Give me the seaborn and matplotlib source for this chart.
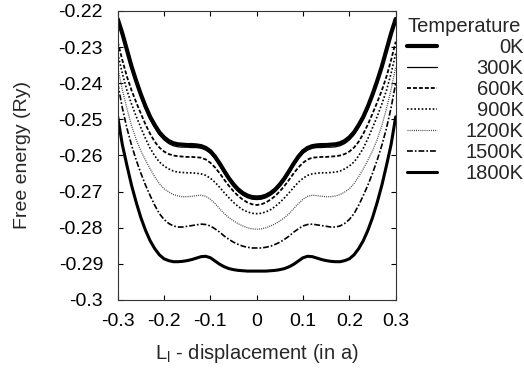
import numpy as np
import pandas as pd
import matplotlib
matplotlib.use("Agg")
import matplotlib.pyplot as plt
import seaborn as sns

# ---- data ----
x_disp = [-0.30, -0.29, -0.28, -0.27, -0.26, -0.25, -0.24, -0.23, -0.22, -0.21,
          -0.20, -0.19, -0.18, -0.17, -0.16, -0.15, -0.14, -0.13, -0.12, -0.11,
          -0.10, -0.09, -0.08, -0.07, -0.06, -0.05, -0.04, -0.03, -0.02, -0.01,
          0.00,
          0.01, 0.02, 0.03, 0.04, 0.05, 0.06, 0.07, 0.08, 0.09, 0.10,
          0.11, 0.12, 0.13, 0.14, 0.15, 0.16, 0.17, 0.18, 0.19, 0.20,
          0.21, 0.22, 0.23, 0.24, 0.25, 0.26, 0.27, 0.28, 0.29, 0.30]

f_0K = [-0.2222, -0.2262, -0.2308, -0.2354, -0.2394, -0.2431, -0.2464, -0.2493, -0.2516, -0.2536,
        -0.2550, -0.2560, -0.2566, -0.2569, -0.2570, -0.2571, -0.2571, -0.2572, -0.2574, -0.2579,
        -0.2588, -0.2603, -0.2622, -0.2643, -0.2663, -0.2680, -0.2694, -0.2704, -0.2711, -0.2715,
        -0.2716,
        -0.2715, -0.2711, -0.2704, -0.2694, -0.2680, -0.2663, -0.2643, -0.2622, -0.2603, -0.2588,
        -0.2579, -0.2574, -0.2572, -0.2571, -0.2571, -0.2570, -0.2569, -0.2566, -0.2560, -0.2550,
        -0.2536, -0.2516, -0.2493, -0.2464, -0.2431, -0.2394, -0.2354, -0.2308, -0.2262, -0.2222]

f_300K = [-0.2230, -0.2270, -0.2315, -0.2361, -0.2401, -0.2438, -0.2471, -0.2500, -0.2523, -0.2543,
          -0.2557, -0.2567, -0.2573, -0.2576, -0.2577, -0.2577, -0.2578, -0.2578, -0.2580, -0.2585,
          -0.2594, -0.2609, -0.2628, -0.2649, -0.2669, -0.2686, -0.2700, -0.2710, -0.2717, -0.2721,
          -0.2722,
          -0.2721, -0.2717, -0.2710, -0.2700, -0.2686, -0.2669, -0.2649, -0.2628, -0.2609, -0.2594,
          -0.2585, -0.2580, -0.2578, -0.2578, -0.2577, -0.2577, -0.2576, -0.2573, -0.2567, -0.2557,
          -0.2543, -0.2523, -0.2500, -0.2471, -0.2438, -0.2401, -0.2361, -0.2315, -0.2270, -0.2230]

f_600K = [-0.2285, -0.2336, -0.2382, -0.2420, -0.2453, -0.2484, -0.2514, -0.2540, -0.2562, -0.2578,
          -0.2589, -0.2596, -0.2600, -0.2602, -0.2603, -0.2604, -0.2604, -0.2605, -0.2606, -0.2611,
          -0.2620, -0.2633, -0.2649, -0.2667, -0.2684, -0.2699, -0.2712, -0.2722, -0.2730, -0.2735,
          -0.2737,
          -0.2735, -0.2730, -0.2722, -0.2712, -0.2699, -0.2684, -0.2667, -0.2649, -0.2633, -0.2620,
          -0.2611, -0.2606, -0.2605, -0.2604, -0.2604, -0.2603, -0.2602, -0.2600, -0.2596, -0.2589,
          -0.2578, -0.2562, -0.2540, -0.2514, -0.2484, -0.2453, -0.2420, -0.2382, -0.2336, -0.2285]

f_900K = [-0.2318, -0.2373, -0.2420, -0.2458, -0.2492, -0.2523, -0.2553, -0.2580, -0.2601, -0.2618,
          -0.2629, -0.2637, -0.2643, -0.2646, -0.2647, -0.2648, -0.2648, -0.2649, -0.2651, -0.2655,
          -0.2663, -0.2674, -0.2688, -0.2703, -0.2717, -0.2730, -0.2741, -0.2750, -0.2756, -0.2760,
          -0.2761,
          -0.2760, -0.2756, -0.2750, -0.2741, -0.2730, -0.2717, -0.2703, -0.2688, -0.2674, -0.2663,
          -0.2655, -0.2651, -0.2649, -0.2648, -0.2648, -0.2647, -0.2646, -0.2643, -0.2637, -0.2629,
          -0.2618, -0.2601, -0.2580, -0.2553, -0.2523, -0.2492, -0.2458, -0.2420, -0.2373, -0.2318]

f_1200K = [-0.2355, -0.2418, -0.2470, -0.2518, -0.2556, -0.2587, -0.2613, -0.2637, -0.2659, -0.2678,
           -0.2692, -0.2701, -0.2708, -0.2712, -0.2714, -0.2714, -0.2713, -0.2711, -0.2710, -0.2713,
           -0.2721, -0.2733, -0.2747, -0.2761, -0.2772, -0.2781, -0.2789, -0.2795, -0.2800, -0.2803,
           -0.2804,
           -0.2803, -0.2800, -0.2795, -0.2789, -0.2781, -0.2772, -0.2761, -0.2747, -0.2733, -0.2721,
           -0.2713, -0.2710, -0.2711, -0.2713, -0.2714, -0.2714, -0.2712, -0.2708, -0.2701, -0.2692,
           -0.2678, -0.2659, -0.2637, -0.2613, -0.2587, -0.2556, -0.2518, -0.2470, -0.2418, -0.2355]

f_1500K = [-0.2400, -0.2468, -0.2525, -0.2572, -0.2613, -0.2649, -0.2682, -0.2711, -0.2738, -0.2761,
           -0.2777, -0.2788, -0.2795, -0.2798, -0.2798, -0.2796, -0.2794, -0.2792, -0.2790, -0.2791,
           -0.2795, -0.2803, -0.2812, -0.2823, -0.2832, -0.2840, -0.2846, -0.2851, -0.2854, -0.2856,
           -0.2856,
           -0.2856, -0.2854, -0.2851, -0.2846, -0.2840, -0.2832, -0.2823, -0.2812, -0.2803, -0.2795,
           -0.2791, -0.2790, -0.2792, -0.2794, -0.2796, -0.2798, -0.2798, -0.2795, -0.2788, -0.2777,
           -0.2761, -0.2738, -0.2711, -0.2682, -0.2649, -0.2613, -0.2572, -0.2525, -0.2468, -0.2400]

f_1800K = [-0.2493, -0.2570, -0.2628, -0.2683, -0.2730, -0.2772, -0.2807, -0.2836, -0.2858, -0.2875,
           -0.2886, -0.2891, -0.2894, -0.2894, -0.2893, -0.2891, -0.2888, -0.2884, -0.2880, -0.2879,
           -0.2883, -0.2892, -0.2901, -0.2908, -0.2913, -0.2916, -0.2918, -0.2919, -0.2920, -0.2920,
           -0.2920,
           -0.2920, -0.2920, -0.2919, -0.2918, -0.2916, -0.2913, -0.2908, -0.2901, -0.2892, -0.2883,
           -0.2879, -0.2880, -0.2884, -0.2888, -0.2891, -0.2893, -0.2894, -0.2894, -0.2891, -0.2886,
           -0.2875, -0.2858, -0.2836, -0.2807, -0.2772, -0.2730, -0.2683, -0.2628, -0.2570, -0.2493]

temps = ["0K", "300K", "600K", "900K", "1200K", "1500K", "1800K"]
series = [f_0K, f_300K, f_600K, f_900K, f_1200K, f_1500K, f_1800K]

x_ticks = [-0.3, -0.2, -0.1, 0.0, 0.1, 0.2, 0.3]
x_ticklabels = ["-0.3", "-0.2", "-0.1", "0", "0.1", "0.2", "0.3"]
y_ticks = [-0.30, -0.29, -0.28, -0.27, -0.26, -0.25, -0.24, -0.23, -0.22]
y_ticklabels = ["-0.3", "-0.29", "-0.28", "-0.27", "-0.26", "-0.25", "-0.24", "-0.23", "-0.22"]

# ---- styles ----
styles = {
    "0K":    dict(lw=3.0, ls="-", color="black"),
    "300K":  dict(lw=0.9, ls="-", color="black"),
    "600K":  dict(lw=1.3, ls=(0, (2.2, 1.1)), color="black"),
    "900K":  dict(lw=1.2, ls=(0, (1.0, 1.2)), color="black"),
    "1200K": dict(lw=0.9, ls=(0, (0.8, 0.9)), color="#444444"),
    "1500K": dict(lw=1.2, ls=(0, (3.5, 1.2, 1.0, 1.2)), color="black"),
    "1800K": dict(lw=2.2, ls="-", color="black"),
}

sns.set_style("ticks")
plt.rcParams["font.family"] = ["Liberation Sans", "DejaVu Sans"]

fig = plt.figure(figsize=(5.24, 3.70), dpi=100)
ax = fig.add_axes([117.7 / 524, 70 / 370, 278 / 524, 289 / 370])

for t, ys in zip(temps, series):
    df = pd.DataFrame({"x": x_disp, "F": ys})
    st = styles[t]
    sns.lineplot(data=df, x="x", y="F", ax=ax, color=st["color"], linewidth=st["lw"],
                 linestyle=st["ls"], label=t, sort=True, errorbar=None)

ax.set_xlim(-0.3, 0.3)
ax.set_ylim(-0.3, -0.22)
ax.set_xticks(x_ticks)
ax.set_xticklabels(x_ticklabels)
ax.set_yticks(y_ticks)
ax.set_yticklabels(y_ticklabels)
ax.tick_params(direction="in", length=3.5, width=0.8, top=True, right=True,
               labelsize=14, colors="black")
ax.tick_params(axis="y", pad=10.5)
ax.tick_params(axis="x", pad=9)
for s in ax.spines.values():
    s.set_linewidth(0.8)
    s.set_color("#333333")
    s.set_visible(True)

ax.set_xlabel(r"L$_\mathregular{l}$ - displacement (in a)", fontsize=14.5, labelpad=9)
ax.set_ylabel("Free energy (Ry)", fontsize=14, labelpad=20)

leg = ax.legend(title="Temperature", loc="upper left",
                bbox_to_anchor=(407 / 524, 1 - 17 / 370), bbox_transform=fig.transFigure,
                frameon=False, fontsize=14.5, title_fontsize=14.5, borderpad=0,
                borderaxespad=0, handlelength=1.5, handletextpad=1.4,
                labelspacing=0.1, alignment="left")

fig.canvas.draw()
texts = leg.get_texts()
widths = [tx.get_window_extent().width for tx in texts]
W = max(widths)
for tx, w in zip(texts, widths):
    tx.set_position((W - w, 0))

fig.savefig("out.png", dpi=100)
